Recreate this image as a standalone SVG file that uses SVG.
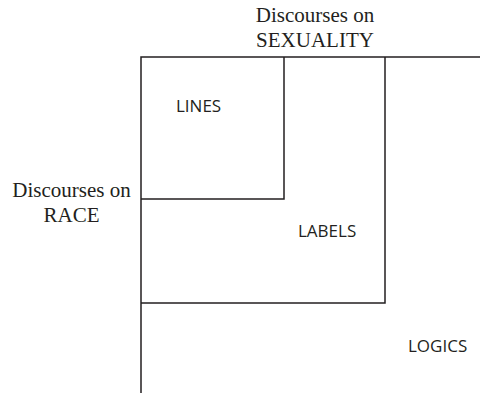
<svg xmlns="http://www.w3.org/2000/svg" width="480" height="393" viewBox="0 0 480 393">
<style>
.ln{fill:none;stroke:#231f20;stroke-width:1.5}
.serif{font-family:"Liberation Serif","Times New Roman",serif;font-size:21px;fill:#231f20;text-anchor:middle}
.sans{font-family:"Open Sans","Liberation Sans",sans-serif;font-size:17px;fill:#231f20}
</style>
<rect width="480" height="393" fill="#fff"/>
<g id="connectors">
<path class="ln" d="M141,393 V57 H480"/>
</g>
<g id="lines">
<path class="ln" d="M141,199 H284 V57"/>
<text class="sans" x="176" y="112">LINES</text>
</g>
<g id="labels">
<path class="ln" d="M141,303 H385 V57"/>
<text class="sans" x="298" y="237">LABELS</text>
</g>
<g id="logics">
<text class="sans" x="408" y="352">LOGICS</text>
</g>
<g id="sexuality">
<text class="serif" x="315" y="22">Discourses on</text>
<text class="serif" x="315" y="47">SEXUALITY</text>
</g>
<g id="race">
<text class="serif" x="71.5" y="197">Discourses on</text>
<text class="serif" x="71.5" y="222">RACE</text>
</g>
</svg>
